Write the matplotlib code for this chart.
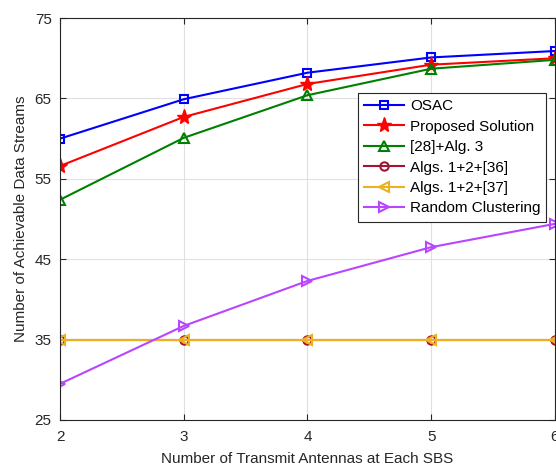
import matplotlib.pyplot as plt

plt.rcParams['font.family'] = ['Liberation Sans', 'DejaVu Sans']

# data
antennas = [2, 3, 4, 5, 6]
osac = [60.0, 64.9, 68.2, 70.1, 70.9]
proposed = [56.6, 62.7, 66.8, 69.2, 70.0]
ref28_alg3 = [52.4, 60.1, 65.4, 68.7, 69.8]
algs_36 = [35, 35, 35, 35, 35]
algs_37 = [35, 35, 35, 35, 35]
random_clust = [29.5, 36.7, 42.3, 46.5, 49.4]

yticks = [25, 35, 45, 55, 65, 75]

fig = plt.figure(figsize=(5.56, 4.69), dpi=100)
ax = fig.add_axes([0.108, 0.1045, 0.89, 0.857])

ax.plot(antennas, osac, color='#0000ff', marker='s', mfc='none', ms=6, mew=1.5, lw=1.5, label='OSAC')
ax.plot(antennas, proposed, color='#ff0000', marker='*', ms=11, lw=1.5, label='Proposed Solution')
ax.plot(antennas, ref28_alg3, color='#008000', marker='^', mfc='none', ms=7, mew=1.5, lw=1.5, label='[28]+Alg. 3')
ax.plot(antennas, algs_36, color='#a2142f', marker='o', mfc='none', ms=6, mew=1.5, lw=1.5, label='Algs. 1+2+[36]')
ax.plot(antennas, algs_37, color='#edb120', marker='<', mfc='none', ms=7, mew=1.5, lw=1.5, label='Algs. 1+2+[37]')
ax.plot(antennas, random_clust, color='#b845ff', marker='>', mfc='none', ms=7, mew=1.5, lw=1.5, label='Random Clustering')

ax.set_xlim(2, 6)
ax.set_ylim(25, 75)
ax.set_xticks(antennas)
ax.set_yticks(yticks)
ax.grid(True, color='#e0e0e0', lw=0.8)
ax.set_axisbelow(True)
ax.tick_params(direction='in', top=True, right=True, labelsize=11, colors='#262626', length=4)
ax.tick_params(axis='x', pad=7)
ax.tick_params(axis='y', pad=6)
for s in ax.spines.values():
    s.set_color('#262626')
    s.set_linewidth(0.8)

ax.set_xlabel('Number of Transmit Antennas at Each SBS', fontsize=11, color='#262626', labelpad=6)
ax.set_ylabel('Number of Achievable Data Streams', fontsize=11, color='#262626', labelpad=5)

leg = ax.legend(loc='upper left', bbox_to_anchor=(0.602, 0.813), fontsize=11,
                fancybox=False, framealpha=1, edgecolor='#262626',
                handlelength=2.6, borderpad=0.4, labelspacing=0.42, handletextpad=0.4,
                borderaxespad=0)
leg.get_frame().set_linewidth(0.8)

fig.savefig('out.png', dpi=100)
